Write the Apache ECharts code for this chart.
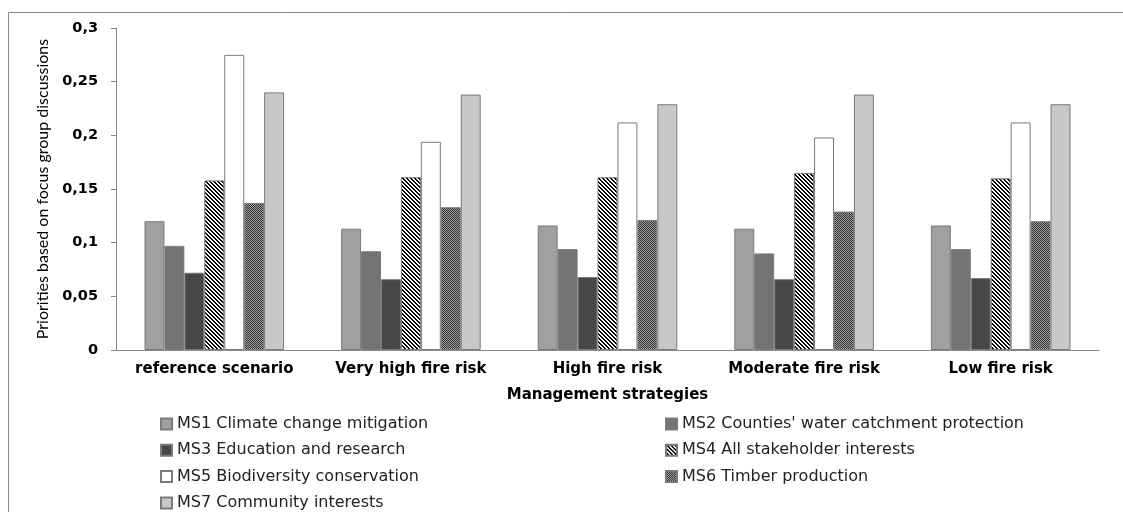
<!DOCTYPE html>
<html><head><meta charset="utf-8">
<script src="https://cdn.jsdelivr.net/npm/echarts@6/dist/echarts.min.js"></script>
<style>html,body{margin:0;padding:0;background:#fff}#c{width:1123px;height:512px}</style>
</head><body><div id="c"></div>
<script>
const categories = ['reference scenario', 'Very high fire risk', 'High fire risk', 'Moderate fire risk', 'Low fire risk'];
const seriesNames = ['MS1 Climate change mitigation', "MS2 Counties' water catchment protection", 'MS3 Education and research', 'MS4 All stakeholder interests', 'MS5 Biodiversity conservation', 'MS6 Timber production', 'MS7 Community interests'];
const ms1 = [0.120, 0.113, 0.116, 0.113, 0.116];
const ms2 = [0.097, 0.092, 0.094, 0.090, 0.094];
const ms3 = [0.072, 0.066, 0.068, 0.066, 0.067];
const ms4 = [0.158, 0.161, 0.161, 0.165, 0.160];
const ms5 = [0.275, 0.194, 0.212, 0.198, 0.212];
const ms6 = [0.137, 0.133, 0.121, 0.129, 0.120];
const ms7 = [0.240, 0.238, 0.229, 0.238, 0.229];
const yTickLabels = ['0', '0,05', '0,1', '0,15', '0,2', '0,25', '0,3'];

function stripes() {
  const c = document.createElement('canvas'); c.width = 4; c.height = 4;
  const g = c.getContext('2d'); g.fillStyle = '#fff'; g.fillRect(0, 0, 4, 4);
  g.fillStyle = '#000';
  for (let y = 0; y < 4; y++) for (let x = 0; x < 4; x++) {
    const d = ((x - y) % 4 + 4) % 4; if (d < 2) g.fillRect(x, y, 1, 1);
  }
  return c;
}
function checker() {
  const c = document.createElement('canvas'); c.width = 2; c.height = 2;
  const g = c.getContext('2d'); g.fillStyle = '#a0a0a0'; g.fillRect(0, 0, 2, 2);
  g.fillStyle = '#303030'; g.fillRect(0, 0, 1, 1); g.fillRect(1, 1, 1, 1);
  return c;
}
const fills = ['#a0a0a0', '#737373', '#474747', { image: stripes(), repeat: 'repeat' }, '#ffffff', { image: checker(), repeat: 'repeat' }, '#c8c8c8'];
const data = [ms1, ms2, ms3, ms4, ms5, ms6, ms7];
const legendText = { fontFamily: 'DejaVu Sans', fontSize: 16, color: '#222', lineHeight: 18 };

const chart = echarts.init(document.getElementById('c'), null, { renderer: 'canvas' });
chart.setOption({
  animation: false,
  backgroundColor: '#fff',
  graphic: [{ type: 'rect', shape: { x: 8.5, y: 12.5, width: 1200, height: 600 }, style: { fill: 'none', stroke: '#8a8a8a', lineWidth: 1 }, silent: true }],
  grid: { left: 116, right: 24, top: 28, bottom: 162 },
  legend: [
    { left: 160, top: 415, padding: 0, orient: 'vertical', itemWidth: 11, itemHeight: 11, itemGap: 8.3, icon: 'rect',
      data: [seriesNames[0], seriesNames[2], seriesNames[4], seriesNames[6]], textStyle: legendText },
    { left: 665, top: 415, padding: 0, orient: 'vertical', itemWidth: 11, itemHeight: 11, itemGap: 8.3, icon: 'rect',
      data: [seriesNames[1], seriesNames[3], seriesNames[5]], textStyle: legendText }
  ],
  xAxis: {
    type: 'category', data: categories,
    name: 'Management strategies', nameLocation: 'middle', nameGap: 38,
    nameTextStyle: { fontFamily: 'DejaVu Sans', fontWeight: 'bold', fontSize: 15, color: '#000' },
    axisLine: { lineStyle: { color: '#8a8a8a' } }, axisTick: { show: false },
    axisLabel: { interval: 0, hideOverlap: false, fontFamily: 'DejaVu Sans', fontWeight: 'bold', fontSize: 15, color: '#000', margin: 12 }
  },
  yAxis: {
    type: 'value', min: 0, max: 0.3, interval: 0.05,
    name: 'Priorities based on focus group discussions', nameLocation: 'middle', nameGap: 65,
    nameTextStyle: { fontFamily: 'Lato', fontSize: 16, color: '#000' },
    axisLine: { show: true, lineStyle: { color: '#8a8a8a' } },
    axisTick: { show: true, length: 5, lineStyle: { color: '#8a8a8a' } },
    splitLine: { show: false },
    axisLabel: { fontFamily: 'DejaVu Sans', fontWeight: 'bold', fontSize: 14.5, color: '#000', margin: 18,
      formatter: v => yTickLabels[Math.round(v / 0.05)] }
  },
  series: seriesNames.map((n, i) => ({
    name: n, type: 'bar', data: data[i], barGap: '0%', barCategoryGap: '29%',
    itemStyle: { color: fills[i], borderColor: '#7a7a7a', borderWidth: 1 }
  }))
});
</script></body></html>
